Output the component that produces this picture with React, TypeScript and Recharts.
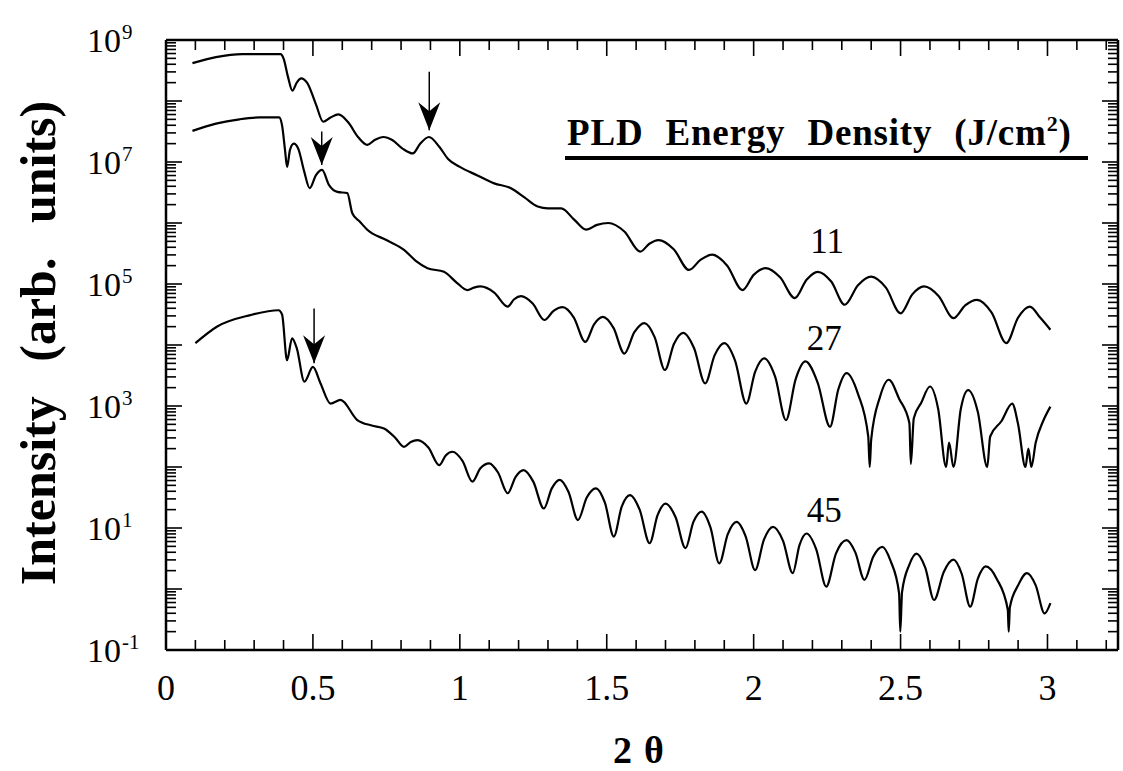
import React from "react";
import { LineChart, Line, XAxis, YAxis, ReferenceLine, ReferenceDot } from "recharts";

const FONT = '"Liberation Serif", "Times New Roman", Times, serif';

// 2θ values and log10(intensity), one pair per energy density
const theta11 = [
  0.09, 0.17, 0.26, 0.33, 0.39, 0.4, 0.415, 0.43, 0.445, 0.46, 0.48, 0.51, 0.535, 0.56, 0.587, 0.62, 0.655,
  0.685, 0.71, 0.74, 0.77, 0.805, 0.84, 0.865, 0.895, 0.93, 0.96, 1.0, 1.06, 1.117, 1.174, 1.22, 1.265, 1.3,
  1.345, 1.39, 1.43, 1.467, 1.505, 1.56, 1.614, 1.645, 1.676, 1.728, 1.78, 1.82, 1.859, 1.91, 1.962, 2.0,
  2.04, 2.09, 2.14, 2.18, 2.218, 2.264, 2.31, 2.355, 2.4, 2.45, 2.5, 2.54, 2.58, 2.63, 2.68, 2.72, 2.76,
  2.81, 2.86, 2.9, 2.94, 2.975, 3.01,
];
const logI11 = [
  8.62, 8.72, 8.77, 8.77, 8.77, 8.7, 8.4, 8.17, 8.3, 8.37, 8.3, 7.95, 7.66, 7.73, 7.78, 7.65, 7.4,
  7.28, 7.36, 7.41, 7.36, 7.22, 7.14, 7.3, 7.41, 7.25, 7.05, 6.92, 6.78, 6.65, 6.57, 6.42, 6.27, 6.24,
  6.24, 6.05, 5.89, 5.97, 6.0, 5.86, 5.53, 5.66, 5.72, 5.57, 5.23, 5.4, 5.48, 5.3, 4.9, 5.15,
  5.26, 5.11, 4.77, 5.07, 5.2, 5.04, 4.66, 4.98, 5.12, 4.94, 4.52, 4.83, 4.96, 4.8, 4.44, 4.65, 4.74,
  4.53, 4.03, 4.45, 4.63, 4.45, 4.25,
];

const theta27 = [
  0.09, 0.17, 0.25, 0.32, 0.385, 0.395, 0.405, 0.412, 0.422, 0.435, 0.45, 0.47, 0.489, 0.51, 0.531, 0.555,
  0.583, 0.617, 0.634, 0.66, 0.685, 0.75, 0.81, 0.85, 0.89, 0.946, 0.99, 1.026, 1.048, 1.07, 1.117, 1.163,
  1.185, 1.208, 1.248, 1.288, 1.319, 1.35, 1.388, 1.427, 1.457, 1.487, 1.523, 1.56, 1.594, 1.628, 1.663,
  1.698, 1.729, 1.76, 1.797, 1.835, 1.867, 1.9, 1.937, 1.975, 2.005, 2.036, 2.073, 2.11, 2.143, 2.176,
  2.218, 2.26, 2.288, 2.316, 2.355, 2.39, 2.395, 2.4, 2.43, 2.46, 2.495, 2.53, 2.535, 2.545, 2.57, 2.6,
  2.628, 2.655, 2.665, 2.68, 2.705, 2.73, 2.763, 2.795, 2.805, 2.843, 2.88, 2.9, 2.925, 2.935, 2.945, 2.96,
  2.985, 3.01,
];
const logI27 = [
  7.51, 7.63, 7.7, 7.73, 7.73, 7.6, 7.2, 6.92, 7.2, 7.3, 7.22, 6.85, 6.57, 6.78, 6.87, 6.62,
  6.51, 6.49, 6.16, 6.02, 5.89, 5.72, 5.56, 5.38, 5.26, 5.2, 5.02, 4.9, 4.94, 4.96, 4.86, 4.63,
  4.75, 4.8, 4.68, 4.41, 4.56, 4.62, 4.45, 4.05, 4.34, 4.46, 4.28, 3.86, 4.21, 4.36, 4.13,
  3.59, 4.02, 4.2, 3.95, 3.37, 3.83, 4.03, 3.74, 3.04, 3.56, 3.78, 3.48, 2.77, 3.44, 3.73,
  3.38, 2.66, 3.27, 3.54, 3.2, 2.5, 2.0, 2.45, 3.15, 3.43, 3.12, 2.72, 2.05, 2.8, 3.05, 3.32,
  2.95, 2.0, 2.4, 2.0, 2.95, 3.26, 2.9, 2.0, 2.5, 2.75, 3.04, 2.7, 2.0, 2.3, 2.0, 2.4,
  2.75, 2.99,
];

const theta45 = [
  0.1, 0.173, 0.287, 0.383, 0.395, 0.412, 0.429, 0.445, 0.471, 0.5, 0.526, 0.56, 0.594, 0.651, 0.7, 0.742,
  0.78, 0.81, 0.833, 0.856, 0.893, 0.93, 0.952, 0.975, 1.009, 1.043, 1.07, 1.1, 1.13, 1.163, 1.19, 1.217,
  1.25, 1.286, 1.313, 1.34, 1.37, 1.402, 1.432, 1.463, 1.494, 1.524, 1.551, 1.579, 1.612, 1.646, 1.673,
  1.7, 1.734, 1.768, 1.795, 1.823, 1.853, 1.883, 1.912, 1.942, 1.973, 2.005, 2.035, 2.066, 2.1, 2.133,
  2.156, 2.18, 2.213, 2.247, 2.28, 2.316, 2.346, 2.377, 2.407, 2.438, 2.466, 2.495, 2.499, 2.505, 2.53,
  2.554, 2.584, 2.614, 2.647, 2.68, 2.708, 2.737, 2.763, 2.79, 2.828, 2.865, 2.868, 2.872, 2.9, 2.93,
  2.96, 2.99, 3.01,
];
const logI45 = [
  4.03, 4.3, 4.49, 4.57, 4.5, 3.75, 4.11, 3.95, 3.4, 3.64, 3.37, 3.04, 3.1, 2.77, 2.68, 2.63,
  2.48, 2.33, 2.41, 2.44, 2.32, 2.03, 2.19, 2.25, 2.1, 1.76, 1.98, 2.06, 1.91, 1.57, 1.84, 1.95,
  1.76, 1.32, 1.65, 1.79, 1.59, 1.13, 1.5, 1.65, 1.41, 0.86, 1.35, 1.54, 1.3, 0.75, 1.21,
  1.4, 1.18, 0.67, 1.1, 1.27, 1.01, 0.42, 0.9, 1.1, 0.86, 0.31, 0.81, 1.02, 0.79, 0.26,
  0.72, 0.91, 0.65, 0.04, 0.58, 0.8, 0.6, 0.15, 0.53, 0.69, 0.46, -0.07, -0.7, -0.05, 0.4,
  0.58, 0.35, -0.18, 0.28, 0.48, 0.25, -0.29, 0.17, 0.37, 0.16, -0.34, -0.7, -0.3, 0.06, 0.26,
  0.06, -0.4, -0.23,
];

// curve labels (J/cm2) and where they sit
const curveNames = ["11", "27", "45"];
const nameTheta = [2.25, 2.24, 2.24];
const nameLogI = [5.51, 3.92, 1.1];

// arrows marking the first-order peaks
const arrowTheta = [0.896, 0.53, 0.504];
const arrowTailLog = [8.48, 7.5, 4.6];
const arrowTipLog = [7.52, 6.95, 3.7];

const X_DOMAIN = [0, 3.24];
const Y_DOMAIN = [0.1, 1e9];
const X_TICKS = [
  0, 0.1, 0.2, 0.3, 0.4, 0.5, 0.6, 0.7, 0.8, 0.9, 1, 1.1, 1.2, 1.3, 1.4, 1.5, 1.6, 1.7, 1.8, 1.9, 2, 2.1,
  2.2, 2.3, 2.4, 2.5, 2.6, 2.7, 2.8, 2.9, 3, 3.1, 3.2,
];
const X_LABELS = [0, 0.5, 1, 1.5, 2, 2.5, 3];
const DECADES = [-1, 0, 1, 2, 3, 4, 5, 6, 7, 8];
const MANTISSAS = [1, 2, 3, 4, 5, 6, 7, 8, 9];
const Y_LABELS = [1e-1, 1e1, 1e3, 1e5, 1e7, 1e9];

const Y_TICKS = DECADES.flatMap((d) => MANTISSAS.map((m) => m * 10 ** d)).concat([1e9]);

const toRows = (xs: number[], ls: number[]) => xs.map((x, i) => ({ x, y: 10 ** ls[i] }));
const series = [toRows(theta11, logI11), toRows(theta27, logI27), toRows(theta45, logI45)];

const isMajorX = (v: number) => Math.abs(v * 2 - Math.round(v * 2)) < 1e-6;
const isDecade = (v: number) => {
  const e = Math.round(Math.log10(v));
  return Math.abs(v / 10 ** e - 1) < 1e-6;
};

function XLabel({ x, y, payload }: any) {
  return (
    <text x={x} y={y + 50} textAnchor="middle" fontFamily={FONT} fontSize={36} fill="#000">
      {String(payload.value)}
    </text>
  );
}

function YLabel({ x, y, payload }: any) {
  const e = Math.round(Math.log10(payload.value));
  return (
    <g fontFamily={FONT} fill="#000">
      <text x={x - 45} y={y + 12} textAnchor="end" fontSize={34}>
        10
      </text>
      <text x={x - 44} y={y - 1} fontSize={21}>
        {String(e)}
      </text>
    </g>
  );
}

// tick marks pointing into the plot; dx/dy give the inward direction
const tickMark = (dx: number, dy: number, len: number) => (p: any) =>
  <line x1={p.cx} y1={p.cy} x2={p.cx + dx * len} y2={p.cy + dy * len} stroke="#000" strokeWidth={1.6} />;

const frame = { stroke: "#000", strokeWidth: 2.5 };

export default function App() {
  return (
    <div style={{ position: "absolute", left: 0, top: 0, width: 1123, height: 771, background: "#fff" }}>
      <LineChart width={1123} height={771} margin={{ top: 39, right: 4, bottom: 120, left: 165 }}>
        <XAxis
          xAxisId="b"
          dataKey="x"
          type="number"
          domain={X_DOMAIN}
          allowDataOverflow
          ticks={X_LABELS}
          interval={0}
          height={1}
          tickSize={0}
          tickMargin={0}
          tickLine={false}
          axisLine={frame}
          tick={(p: any) => <XLabel {...p} />}
        />
        <XAxis
          xAxisId="t"
          orientation="top"
          dataKey="x"
          type="number"
          domain={X_DOMAIN}
          allowDataOverflow
          height={1}
          tick={false}
          tickLine={false}
          axisLine={frame}
        />
        <YAxis
          yAxisId="l"
          type="number"
          scale="log"
          domain={Y_DOMAIN}
          allowDataOverflow
          ticks={Y_LABELS}
          interval={0}
          width={1}
          tickSize={0}
          tickMargin={0}
          tickLine={false}
          axisLine={frame}
          tick={(p: any) => <YLabel {...p} />}
        />
        <YAxis
          yAxisId="r"
          orientation="right"
          type="number"
          scale="log"
          domain={Y_DOMAIN}
          allowDataOverflow
          width={1}
          tick={false}
          tickLine={false}
          axisLine={frame}
        />
        {X_TICKS.map((v) => (
          <ReferenceDot
            key={"xb" + v}
            xAxisId="b"
            yAxisId="l"
            x={v}
            y={Y_DOMAIN[0]}
            r={0}
            ifOverflow="visible"
            shape={tickMark(0, -1, isMajorX(v) ? 16 : 10)}
          />
        ))}
        {X_TICKS.map((v) => (
          <ReferenceDot
            key={"xt" + v}
            xAxisId="b"
            yAxisId="l"
            x={v}
            y={Y_DOMAIN[1]}
            r={0}
            ifOverflow="visible"
            shape={tickMark(0, 1, isMajorX(v) ? 16 : 10)}
          />
        ))}
        {Y_TICKS.map((v) => (
          <ReferenceDot
            key={"yl" + v}
            xAxisId="b"
            yAxisId="l"
            x={X_DOMAIN[0]}
            y={v}
            r={0}
            ifOverflow="visible"
            shape={tickMark(1, 0, isDecade(v) ? 16 : 10)}
          />
        ))}
        {Y_TICKS.map((v) => (
          <ReferenceDot
            key={"yr" + v}
            xAxisId="b"
            yAxisId="l"
            x={X_DOMAIN[1]}
            y={v}
            r={0}
            ifOverflow="visible"
            shape={tickMark(-1, 0, isDecade(v) ? 16 : 10)}
          />
        ))}
        {series.map((rows, i) => (
          <Line
            key={curveNames[i]}
            xAxisId="b"
            yAxisId="l"
            data={rows}
            dataKey="y"
            type="monotone"
            stroke="#000"
            strokeWidth={2.2}
            dot={false}
            isAnimationActive={false}
          />
        ))}
        {arrowTheta.map((t, i) => (
          <ReferenceLine
            key={"shaft" + i}
            xAxisId="b"
            yAxisId="l"
            segment={[
              { x: t, y: 10 ** arrowTailLog[i] },
              { x: t, y: 10 ** arrowTipLog[i] },
            ]}
            stroke="#000"
            strokeWidth={1.5}
          />
        ))}
        {arrowTheta.map((t, i) => (
          <ReferenceDot
            key={"head" + i}
            xAxisId="b"
            yAxisId="l"
            x={t}
            y={10 ** arrowTipLog[i]}
            r={0}
            shape={(p: any) => (
              <path
                d={`M${p.cx},${p.cy} L${p.cx - 11},${p.cy - 28} L${p.cx},${p.cy - 19} L${p.cx + 11},${p.cy - 28} Z`}
                fill="#000"
              />
            )}
          />
        ))}
        {curveNames.map((n, i) => (
          <ReferenceDot
            key={"name" + n}
            xAxisId="b"
            yAxisId="l"
            x={nameTheta[i]}
            y={10 ** nameLogI[i]}
            r={0}
            shape={(p: any) => (
              <text x={p.cx} y={p.cy} textAnchor="middle" fontFamily={FONT} fontSize={35} fill="#000">
                {n}
              </text>
            )}
          />
        ))}
      </LineChart>
      <svg
        width={1123}
        height={771}
        style={{ position: "absolute", left: 0, top: 0, pointerEvents: "none" }}
        fontFamily={FONT}
      >
        <text
          transform="translate(55,343) rotate(-90)"
          textAnchor="middle"
          fontWeight="bold"
          fontSize={50}
          wordSpacing={22}
        >
          Intensity (arb. units)
        </text>
        <text x={613} y={763} fontWeight="bold" fontSize={38} letterSpacing={12}>
          2θ
        </text>
        <text x={567} y={145} fontWeight="bold" fontSize={37} wordSpacing={12} letterSpacing={0.8}>
          PLD Energy Density (J/cm
          <tspan dy={-14} fontSize={22}>
            2
          </tspan>
          <tspan dy={14} fontSize={37}>
            )
          </tspan>
        </text>
        <line x1={565} x2={1088} y1={158} y2={158} stroke="#000" strokeWidth={4} />
      </svg>
    </div>
  );
}
